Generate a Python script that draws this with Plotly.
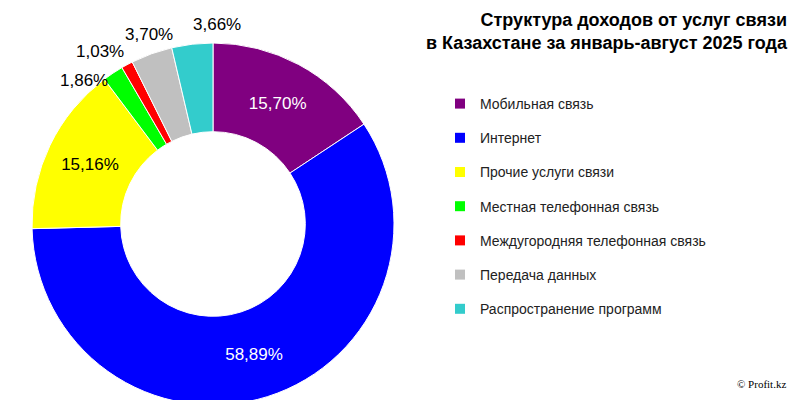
import math
import plotly.graph_objects as go

categories = [
    "Мобильная связь",
    "Интернет",
    "Прочие услуги связи",
    "Местная телефонная связь",
    "Междугородняя телефонная связь",
    "Передача данных",
    "Распространение программ",
]
shares = [15.70, 58.89, 15.16, 1.86, 1.03, 3.70, 3.66]
colors = ["#800080", "#0000FF", "#FFFF00", "#00FF00", "#FF0000", "#C0C0C0", "#33CCCC"]

labels_txt = [f"{v:.2f}".replace(".", ",") + "%" for v in shares]
inside = [True, True, True, False, False, False, False]
text_colors = ["white", "white", "black", "black", "black", "black", "black"]

# pie geometry in paper units (800x400 canvas)
W, H = 800, 400
cx, cy, R = 205, 216, 181
dom_x = [(cx - R) / W, (cx + R) / W]
dom_y = [max(0, 1 - (cy + R) / H), 1 - (cy - R) / H]

fig = go.Figure(go.Pie(
    labels=categories, values=shares, text=labels_txt,
    textinfo="text", textposition=["inside" if f else "none" for f in inside],
    insidetextorientation="horizontal",
    textfont=dict(size=17, color=text_colors, family="Liberation Sans"),
    marker=dict(colors=colors, line=dict(color="white", width=1)),
    hole=0.51, sort=False, direction="clockwise", rotation=0,
    domain=dict(x=dom_x, y=dom_y), showlegend=False,
))

# outside labels for the thin slices, placed off the slice middle
total = sum(shares)
cum = 0
annotations = []
for v, t, f in zip(shares, labels_txt, inside):
    mid = (cum + v / 2) / total * 2 * math.pi
    cum += v
    if f:
        continue
    ang = math.degrees(mid) - 360
    if ang < -30:
        xa, ya, rr = "right", "top", R + 5
    elif ang < -25:
        xa, ya, rr = "right", "bottom", R + 2
    elif ang < -10:
        xa, ya, rr = "center", "bottom", R + 8
    else:
        xa, ya, rr = "left", "bottom", R + 8
    px = cx + rr * math.sin(mid)
    py = cy - rr * math.cos(mid)
    annotations.append(dict(
        text=t, x=px / W, y=1 - py / H, xref="paper", yref="paper",
        xanchor=xa, yanchor=ya, showarrow=False,
        font=dict(size=17, color="black"),
    ))

# legend entries
for name, c in zip(categories, colors):
    fig.add_trace(go.Scatter(
        x=[None], y=[None], mode="markers", name=name, legendgroup=name,
        marker=dict(symbol="square", size=10, color=c),
    ))

fig.update_layout(
    width=800, height=400,
    paper_bgcolor="white", plot_bgcolor="white",
    margin=dict(l=0, r=0, t=0, b=0),
    font=dict(family="Liberation Sans", color="#222"),
    xaxis=dict(visible=False), yaxis=dict(visible=False),
    showlegend=True,
    legend=dict(x=0.54, y=0.80, xanchor="left", yanchor="top",
                font=dict(size=14), tracegroupgap=13, itemwidth=30),
    annotations=annotations + [
        dict(text="<b>Структура доходов от услуг связи<br>в Казахстане за январь-август 2025 года</b>",
             x=0.977, y=1.0, xref="paper", yref="paper", xanchor="right", yanchor="top",
             align="right", showarrow=False, font=dict(size=18, color="black")),
        dict(text="© Profit.kz", x=0.975, y=0.04, xref="paper", yref="paper",
             xanchor="right", showarrow=False, font=dict(size=11, family="Liberation Serif", color="black")),
    ],
)

fig.write_html("out.html")
